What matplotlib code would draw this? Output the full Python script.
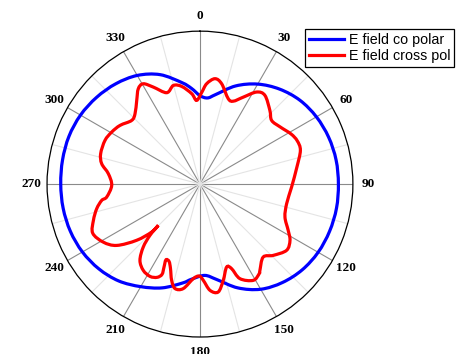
import numpy as np
import matplotlib
matplotlib.use('Agg')
import matplotlib.pyplot as plt
from matplotlib.ticker import FixedLocator
from matplotlib.path import Path
from matplotlib.patches import PathPatch
from matplotlib.lines import Line2D

# angles in degrees (clockwise from north), radius in plot units (outer ring = 153)
co_theta = [0, 5, 10, 20, 30, 40, 50, 60, 70, 80, 90, 100, 110, 120, 130, 140,
            150, 160, 170, 177, 185, 190, 200, 210, 220, 230, 240, 250, 260,
            270, 280, 290, 300, 310, 320, 330, 340, 350, 355]
co_r = [88.5, 86.5, 91, 104.5, 115.5, 124, 130.5, 134.5, 137, 138.3, 138.5,
        138.7, 138, 136.5, 133.5, 128.5, 121.5, 110.5, 97, 91.5, 95.5, 100.5,
        110.5, 118.5, 126.5, 132, 135.8, 138, 139, 139.3, 139.6, 139.5, 138,
        135, 131, 125.5, 116.5, 103, 96]

cx_theta = [1.1, 3.8, 8.1, 12.2, 18.3, 21.9, 26.5, 31.6, 36.2, 43.5, 48.4, 54.5,
            61.2, 66, 71.4, 80, 91.9, 102.7, 111.2, 117.7, 122, 127.4,
            134.2, 139.1, 145.2, 146.5, 151, 157.1, 159.5, 162.2, 166.4, 170.4,
            174.6, 178, 180.4, 184, 189.1, 193.4, 196.4, 199.3, 201.8, 204.2,
            203.4, 202.8, 204.7, 208.4, 213.3, 218.2, 222, 224.3, 225.3, 225.2,
            228.4, 233.6, 239, 245.4, 251.2, 256.6, 260.6, 262.1, 269.2, 276.5,
            281.7, 287, 294.7, 300.5, 306.3, 313, 317.3, 322.9, 327.1, 330.5,
            334.3, 340, 344.9, 349.4, 354.8, 357.7]
cx_r = [91.7, 100.6, 106.5, 102.7, 90, 89.4, 97.2, 108.1, 110, 101.6, 95.9, 98.5,
        104, 106.5, 106, 98.5, 91.7, 88.9, 91.2, 99.7, 106.2, 109.1,
        102.3, 96.6, 105.1, 107.4, 110.1, 102.7, 90.3, 87.2, 99.1, 109.5,
        106.8, 96.4, 92, 94.8, 105.9, 107.5, 100.4, 89.3, 83.3, 83.1,
        90.7, 98, 102.7, 105, 103.3, 97.1, 84.8, 71.6, 58.7, 68.1,
        84.7, 103.4, 112.8, 118, 112.6, 106.2, 99.6, 94.2, 88.3, 92.3,
        100.4, 103.9, 104.6, 102.5, 99.2, 93.4, 95.8, 104.9, 113.6, 115.3,
        107.7, 97.3, 102.2, 99.4, 90.8, 83.8]

tick_deg = list(range(0, 360, 30))
tick_labels = [str(d) for d in tick_deg]


def smooth_closed_path(theta_deg, r):
    # closed Catmull-Rom curve through the read points, as cubic Bezier segments
    t = np.deg2rad(theta_deg)
    p = np.column_stack([np.asarray(r) * np.sin(t), np.asarray(r) * np.cos(t)])
    n = len(p)
    verts = [p[0]]
    codes = [Path.MOVETO]
    for i in range(n):
        p0, p1, p2, p3 = p[i - 1], p[i], p[(i + 1) % n], p[(i + 2) % n]
        verts += [p1 + (p2 - p0) / 6, p2 - (p3 - p1) / 6, p2]
        codes += [Path.CURVE4] * 3
    v = np.array(verts)
    pol = np.column_stack([np.arctan2(v[:, 0], v[:, 1]), np.hypot(v[:, 0], v[:, 1])])
    return Path(pol, codes)


fig = plt.figure(figsize=(4.67, 3.54), dpi=100)
ax = fig.add_axes([0.1007, 0.048, 0.655, 0.864], projection='polar')
ax.set_theta_zero_location('N')
ax.set_theta_direction(-1)
ax.set_rlim(0, 153)

ax.add_patch(PathPatch(smooth_closed_path(co_theta, co_r), transform=ax.transData,
                       fill=False, ec='#0000ff', lw=2.3, zorder=3))
ax.add_patch(PathPatch(smooth_closed_path(cx_theta, cx_r), transform=ax.transData,
                       fill=False, ec='#ff0000', lw=2.3, zorder=4))

ax.set_yticks([])
ax.set_xticks(np.deg2rad(tick_deg))
ax.set_xticklabels(tick_labels, fontfamily='Liberation Serif',
                   fontweight='bold', fontsize=9.5)
ax.xaxis.set_minor_locator(FixedLocator(np.deg2rad(np.arange(15, 360, 30))))
ax.xaxis.grid(True, which='major', color='#8a8a8a', lw=0.8)
ax.xaxis.grid(True, which='minor', color='#e4e4e4', lw=0.8)
ax.tick_params(axis='x', which='major', direction='in', length=5,
               color='black', pad=4)
ax.tick_params(axis='x', which='minor', direction='in', length=3,
               color='black')
ax.spines['polar'].set_color('black')
ax.spines['polar'].set_linewidth(0.9)

handles = [Line2D([], [], color='#0000ff', lw=2.3, label='E field co polar'),
           Line2D([], [], color='#ff0000', lw=2.3, label='E field cross pol')]
leg = ax.legend(handles=handles, loc='upper left',
                bbox_to_anchor=(0.653, 0.918), bbox_transform=fig.transFigure,
                fancybox=False, framealpha=1, edgecolor='black',
                borderaxespad=0, handlelength=2.5, borderpad=0.25,
                labelspacing=0.2, handletextpad=0.3,
                prop={'family': 'Liberation Sans', 'size': 10.3})
leg.get_frame().set_linewidth(0.9)

fig.savefig('out.png', dpi=100)
